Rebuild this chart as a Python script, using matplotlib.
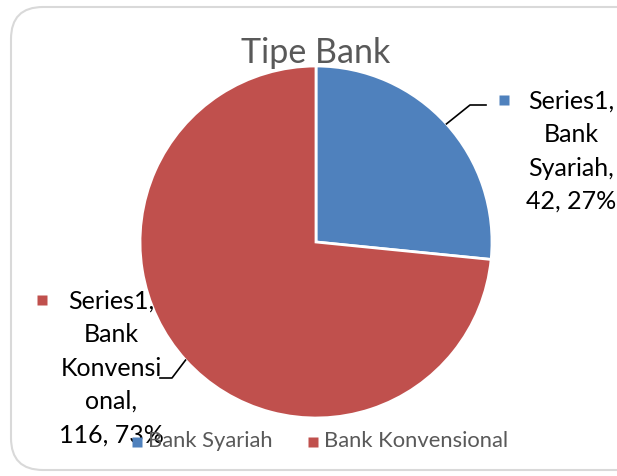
import numpy as np
import matplotlib.pyplot as plt
from matplotlib.patches import FancyBboxPatch

# --- data ---
categories = ["Bank Syariah", "Bank Konvensional"]
counts = [42, 116]
series_name = "Series1"
colors = ["#4f81bd", "#c0504d"]
title = "Tipe Bank"

plt.rcParams["font.family"] = ["Lato", "DejaVu Sans"]

W, H = 617, 476
fig = plt.figure(figsize=(W / 100, H / 100), dpi=100)
ax = fig.add_axes([0, 0, 1, 1])

# chart frame
frame = FancyBboxPatch((11, 6), 640, 463, boxstyle="round,pad=0,rounding_size=32",
                       fc="white", ec="#d9d9d9", lw=1.5, zorder=0)
ax.add_patch(frame)

# --- pie ---
cx, cy, r = 316, H - 242, 176
wedges, _ = ax.pie(counts, colors=colors, startangle=90, counterclock=False,
                   center=(cx, cy), radius=r, frame=True,
                   wedgeprops=dict(edgecolor="white", linewidth=2))
ax.set_xlim(0, W)
ax.set_ylim(0, H)
ax.set_aspect("equal")
ax.axis("off")

ax.text(cx, H - 53, title, ha="center", va="center", fontsize=24.5, color="#595959")

total = sum(counts)
pcts = [round(100 * c / total) for c in counts]

# --- data labels ---
lab_cfg = [
    dict(tx=571, ty=101, mx=504, elbow=[(470, 105), (486, 105)],
         lines=[f"{series_name},", "Bank", "Syariah,", f"{counts[0]}, {pcts[0]}%"]),
    dict(tx=111, ty=301, mx=42, elbow=[(172, 378), (160, 378)],
         lines=[f"{series_name},", "Bank", "Konvensi", "onal,", f"{counts[1]}, {pcts[1]}%"]),
]
for w, cfg, col in zip(wedges, lab_cfg, colors):
    ang = np.deg2rad((w.theta1 + w.theta2) / 2)
    px, py = cx + r * np.cos(ang), cy + r * np.sin(ang)
    ex = [px] + [p[0] for p in cfg["elbow"]]
    ey = [py] + [H - p[1] for p in cfg["elbow"]]
    ax.plot(ex, ey, color="black", lw=1.2, zorder=3)
    for i, line in enumerate(cfg["lines"]):
        ax.text(cfg["tx"], H - cfg["ty"] - i * 33.5, line, ha="center", va="center",
                fontsize=18, color="black", zorder=4)
    ax.plot(cfg["mx"], H - cfg["ty"] + 1, marker="s", ms=7, color=col, mec="none", zorder=4)

# --- legend ---
leg_x = [137, 313]
for x, name, col in zip(leg_x, categories, colors):
    ax.plot(x, H - 442, marker="s", ms=6.5, color=col, mec="none", zorder=5)
    ax.text(x + 11, H - 441, name, ha="left", va="center", fontsize=15.8, color="#595959", zorder=5)

fig.savefig("out.png", dpi=100)
